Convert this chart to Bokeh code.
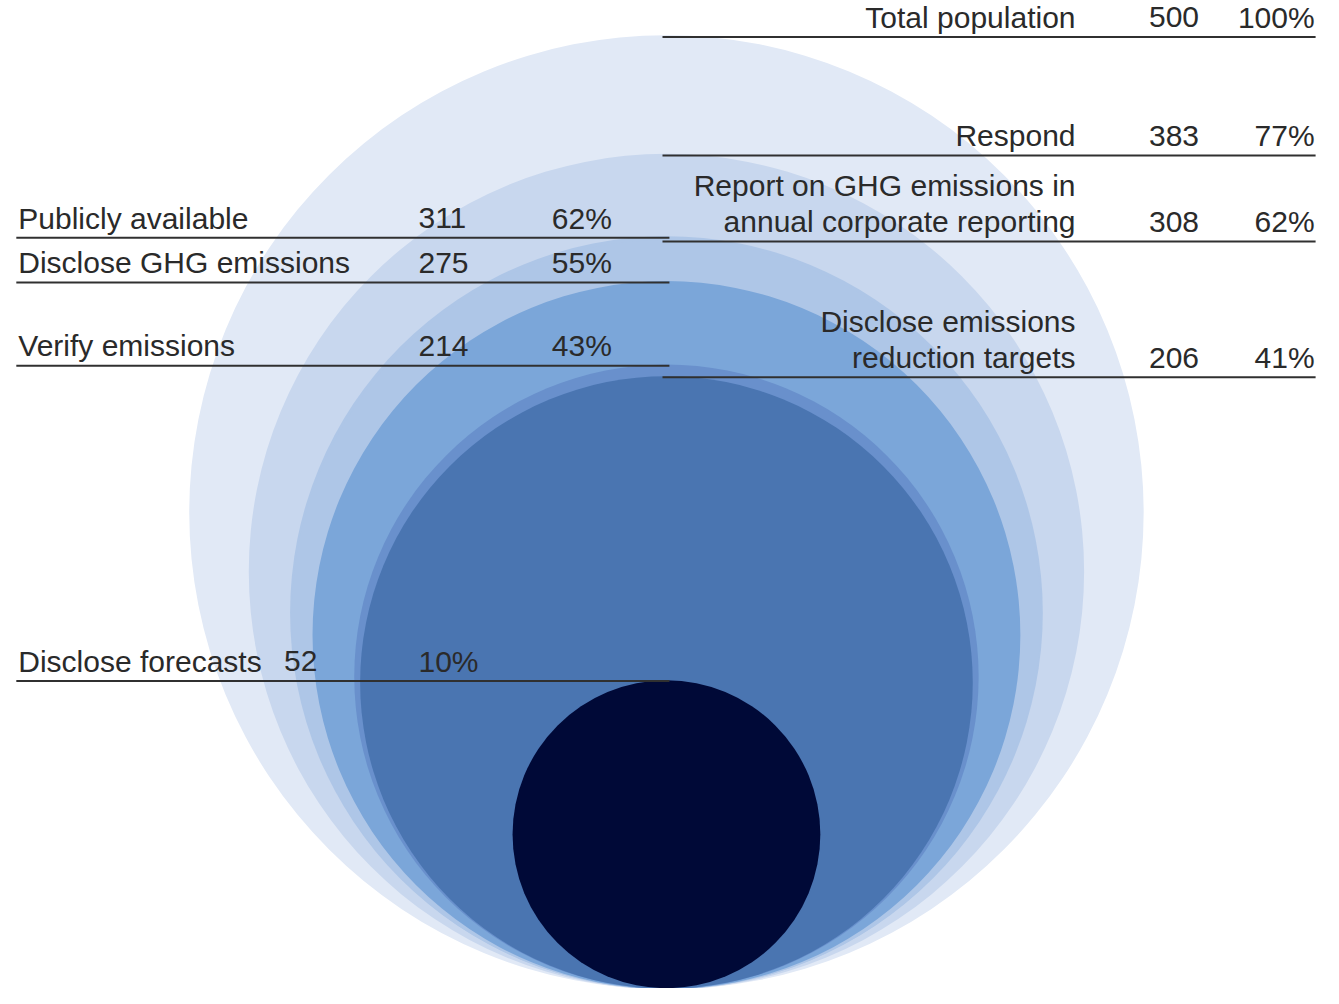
import numpy as np
from bokeh.plotting import figure
from bokeh.models import Range1d, ColumnDataSource
from bokeh.core.properties import value
from bokeh.embed import file_html
from bokeh.resources import INLINE

# ---------------- data ----------------
labels = [
    "Total population",
    "Respond",
    "Publicly available",
    "Report on GHG emissions in\nannual corporate reporting",
    "Disclose GHG emissions",
    "Verify emissions",
    "Disclose emissions\nreduction targets",
    "Disclose forecasts",
]
counts = [500, 383, 311, 308, 275, 214, 206, 52]
shares = ["100%", "77%", "62%", "62%", "55%", "43%", "41%", "10%"]
sides = ["right", "right", "left", "right", "left", "left", "right", "left"]

# ---------------- styles / layout ----------------
circle_colors = ["#e1e9f6", "#c8d7ee", "#aec6e7", "#aec6e7",
                 "#7ba6d9", "#6990cc", "#4a75b1", "#000937"]
TEXT_COLOR = "#2a2a2a"
LINE_COLOR = "#303030"
FONT = "Liberation Sans"
FONT_SIZE = "30px"

W, H = 1323, 988             # figure size on the page
VW, VH = 1339, 1004          # virtual canvas (reference pixel grid)
def dy(Y):                   # canvas row (from top) -> data y
    return VH - Y

CX = 674                     # common centre x of the circles
BOTTOM_Y = 1003              # row where all circles touch
K = 21.6                     # radius per sqrt(unit)  (area ~ value)
LINE_GAP = 37                # text line spacing
BASE_GAP = 8                 # baseline above the rule
TEXT_FIX = 12                # renderer baseline correction

LEFT = dict(rule=(16, 677), label_x=18, count_x=423, share_x=558, align="left")
RIGHT = dict(rule=(670, 1331), label_x=1088, count_x=1213, share_x=1330, align="right")
left_overrides = {"Disclose forecasts": dict(count_x=287, share_x=423)}

p = figure(width=W, height=H, x_range=Range1d(0, VW), y_range=Range1d(0, VH),
           output_backend="svg", toolbar_location=None, min_border=0)
p.axis.visible = False
p.grid.visible = False
p.outline_line_color = None
p.background_fill_color = "white"
p.border_fill_color = "white"

radii = K * np.sqrt(np.array(counts, dtype=float))
tops = BOTTOM_Y - 2 * radii

# circles, largest first
order = np.argsort(-radii, kind="stable")
csrc = ColumnDataSource(dict(
    x=[CX] * len(order),
    y=[dy(BOTTOM_Y - radii[i]) for i in order],
    r=[radii[i] for i in order],
    c=[circle_colors[i] for i in order],
))
p.circle(x="x", y="y", radius="r", fill_color="c", line_color=None, source=csrc)

# rules and texts
seg = dict(x0=[], x1=[], y=[])
txt = {"left": dict(x=[], y=[], t=[]), "right": dict(x=[], y=[], t=[])}
for i, lab in enumerate(labels):
    cfg = dict(LEFT if sides[i] == "left" else RIGHT)
    if sides[i] == "left" and lab in left_overrides:
        cfg.update(left_overrides[lab])
    ry = tops[i]
    seg["x0"].append(cfg["rule"][0])
    seg["x1"].append(cfg["rule"][1])
    seg["y"].append(dy(ry))
    base = ry - BASE_GAP - TEXT_FIX
    parts = lab.split("\n")
    for j, part in enumerate(parts):
        yy = base - (len(parts) - 1 - j) * LINE_GAP
        txt[cfg["align"]]["x"].append(cfg["label_x"])
        txt[cfg["align"]]["y"].append(dy(yy))
        txt[cfg["align"]]["t"].append(part)
    for xx, tt in ((cfg["count_x"], str(counts[i])), (cfg["share_x"], shares[i])):
        txt[cfg["align"]]["x"].append(xx)
        txt[cfg["align"]]["y"].append(dy(base))
        txt[cfg["align"]]["t"].append(tt)

p.segment(x0="x0", y0="y", x1="x1", y1="y", line_color=LINE_COLOR, line_width=2,
          source=ColumnDataSource(seg))

for align in ("left", "right"):
    p.text(x="x", y="y", text="t", source=ColumnDataSource(txt[align]),
           text_align=align, text_baseline="alphabetic",
           text_font=value(FONT), text_font_size=value(FONT_SIZE),
           text_color=TEXT_COLOR)

open("out.html", "w").write(file_html(p, INLINE))
